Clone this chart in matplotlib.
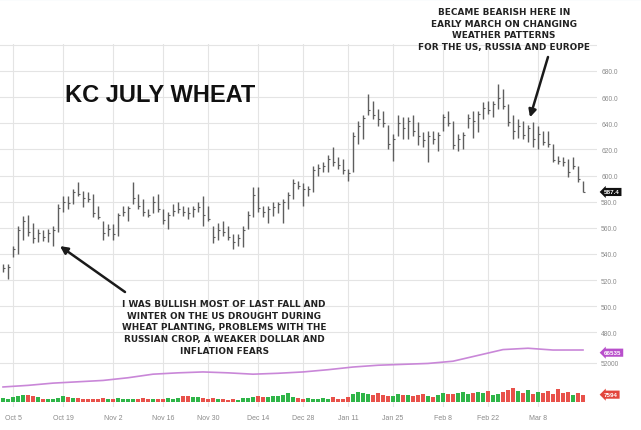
import numpy as np
import pandas as pd
import matplotlib
matplotlib.use('Agg')
import matplotlib.pyplot as plt
from matplotlib import transforms

# trading days Oct 1 2020 .. Mar 19 2021 (exchange holidays removed)
holidays = ['2020-11-26', '2020-12-25', '2021-01-01', '2021-01-18', '2021-02-15']
dates = pd.bdate_range('2020-10-01', '2021-03-19')
dates = dates[~dates.isin(pd.to_datetime(holidays))]

highs = [532, 532, 546, 561, 569, 570, 564, 559, 558, 559,
         561, 578, 584, 584, 590, 595, 588, 587, 586, 577,
         565, 563, 563, 571, 577, 577, 595, 586, 582, 574,
         584, 586, 574, 572, 578, 580, 577, 576, 577, 580,
         584, 577, 561, 564, 565, 561, 555, 555, 561, 573,
         591, 591, 577, 577, 580, 580, 582, 587, 597, 596,
         594, 592, 607, 609, 610, 616, 622, 614, 613, 605,
         633, 642, 646, 662, 657, 651, 649, 639, 632, 646,
         645, 645, 646, 641, 633, 634, 634, 633, 647, 649,
         642, 632, 633, 647, 649, 649, 656, 657, 657, 670,
         666, 655, 646, 643, 642, 639, 641, 638, 634, 634,
         624, 615, 614, 613, 614, 607, 596]
lows = [526, 521, 538, 540, 551, 554, 548, 549, 550, 549,
        546, 557, 572, 574, 578, 584, 576, 580, 568, 567,
        551, 554, 551, 554, 569, 565, 578, 574, 569, 568,
        571, 572, 563, 559, 569, 571, 569, 567, 568, 572,
        561, 565, 548, 551, 554, 551, 544, 546, 545, 559,
        568, 572, 568, 564, 569, 571, 564, 574, 582, 590,
        577, 584, 587, 600, 603, 603, 607, 605, 601, 596,
        603, 624, 628, 646, 643, 638, 637, 620, 611, 630,
        628, 628, 630, 623, 622, 610, 624, 619, 634, 638,
        620, 619, 620, 636, 629, 633, 643, 647, 645, 651,
        651, 638, 628, 629, 628, 626, 622, 620, 623, 622,
        610, 609, 607, 599, 605, 595, 587]
closes = [529, 530, 544, 558, 565, 557, 552, 556, 553, 556,
          558, 575, 580, 579, 587, 586, 583, 582, 571, 568,
          556, 559, 555, 570, 572, 575, 583, 577, 572, 570,
          580, 574, 566, 570, 573, 574, 572, 571, 574, 576,
          570, 567, 553, 558, 557, 553, 549, 552, 558, 570,
          585, 575, 572, 574, 576, 578, 580, 585, 594, 592,
          590, 590, 604, 606, 607, 613, 610, 608, 604, 602,
          630, 638, 644, 650, 646, 643, 640, 624, 628, 640,
          636, 642, 634, 630, 627, 630, 628, 631, 645, 640,
          623, 628, 631, 644, 642, 647, 652, 650, 655, 659,
          653, 641, 634, 638, 631, 636, 628, 632, 626, 624,
          612, 611, 610, 603, 607, 597, 587.4]
volume = [4400, 3300, 5500, 6600, 7700, 7200, 6100, 5000, 3300, 3000,
          2600, 4400, 6000, 5200, 4200, 3800, 3300, 3600, 3000, 3400,
          3800, 3200, 3500, 4000, 3100, 3600, 3300, 2800, 3900, 3000,
          2700, 3300, 3000, 4200, 2600, 3700, 5800, 6200, 5300, 4800,
          4300, 3600, 3900, 3100, 2700, 2500, 2900, 2400, 3800, 4400,
          5600, 6000, 5000, 4700, 5900, 6300, 7000, 9000, 5200, 4100,
          3200, 3800, 3300, 2900, 3800, 2700, 4900, 3000, 3500, 5600,
          8000, 10500, 9000, 8500, 7200, 8800, 7500, 6300, 6600, 8100,
          7100, 6800, 6200, 6900, 8300, 6000, 5600, 7000, 9800, 7800,
          8600, 9600, 10200, 8700, 9300, 10500, 8900, 11000, 7500, 8200,
          9900, 12800, 14500, 11000, 9800, 12000, 8500, 10800, 9400, 11500,
          8600, 13200, 9200, 10300, 7400, 8800, 7594]
oi_dates = ['2020-10-01', '2020-10-08', '2020-10-15', '2020-10-22', '2020-10-29',
            '2020-11-05', '2020-11-12', '2020-11-19', '2020-11-27', '2020-12-04',
            '2020-12-11', '2020-12-18', '2020-12-28', '2021-01-05', '2021-01-12',
            '2021-01-20', '2021-01-27', '2021-02-03', '2021-02-10', '2021-02-18',
            '2021-02-25', '2021-03-04', '2021-03-11', '2021-03-19']
oi = [25200, 27000, 29500, 31000, 32500, 35500, 39500, 41000, 42000, 41000,
      39500, 40500, 42000, 44500, 47500, 49500, 50500, 51500, 54000, 60500,
      67000, 68500, 66500, 66535]
tick_dates = ['2020-10-05', '2020-10-19', '2020-11-02', '2020-11-16', '2020-11-30',
              '2020-12-14', '2020-12-28', '2021-01-11', '2021-01-25', '2021-02-08',
              '2021-02-22', '2021-03-08']
tick_labels = ['Oct 5', 'Oct 19', 'Nov 2', 'Nov 16', 'Nov 30', 'Dec 14', 'Dec 28',
               'Jan 11', 'Jan 25', 'Feb 8', 'Feb 22', 'Mar 8']

plt.rcParams['font.family'] = ['Liberation Sans', 'DejaVu Sans']

W, H = 641, 431
fig = plt.figure(figsize=(W / 100, H / 100), dpi=100)
fig.patch.set_facecolor('white')

x = np.arange(len(dates))
pos = pd.Series(x, index=dates)
xlim = (-0.6, 118.8)

ax = fig.add_axes([0, 1 - 408 / H, 597 / W, 363 / H])
ax.set_xlim(*xlim)
ax.set_ylim(422.9, 700.6)
for s in ax.spines.values():
    s.set_visible(False)
ax.set_xticks([pos[pd.Timestamp(d)] for d in tick_dates])
ax.set_xticklabels(tick_labels)
yt = list(range(480, 701, 20))
ax.set_yticks(yt)
ax.set_yticklabels([f'{v:.1f}' if v < 700 else '' for v in yt])
ax.tick_params(axis='x', labelsize=5, colors='#8a8a8a', length=0, pad=5)
ax.grid(True, color='#e4e4e4', lw=0.8)
ax.set_axisbelow(True)

bar_col = '#5e5e5e'
ax.vlines(x, lows, highs, color=bar_col, lw=1.0)
ax.hlines(closes, x, x + 0.45, color=bar_col, lw=0.8)

# open interest
ax_oi = ax.twinx()
ax_oi.set_ylim(2808, 408642)
ax_oi.set_xlim(*xlim)
for s in ax_oi.spines.values():
    s.set_visible(False)
ax_oi.set_yticks([52000])
ax_oi.set_yticklabels(['52000'])
ax_oi.tick_params(axis='y', labelsize=4.8, colors='#8a8a8a', length=0, pad=3)
ax_oi.grid(True, axis='y', color='#e4e4e4', lw=0.8)
oi_x = [pos[pd.Timestamp(d)] for d in oi_dates]
ax_oi.plot(oi_x, oi, color='#c987d8', lw=1.2)

# price labels on the right (after twinx, which moves them left)
ax.yaxis.tick_right()
ax.tick_params(axis='y', labelsize=4.8, colors='#8a8a8a', length=0, pad=3,
               left=False, labelleft=False, right=True, labelright=True)

# volume
ax_v = fig.add_axes([0, 1 - 403 / H, 597 / W, 30 / H])
ax_v.set_xlim(*xlim)
ax_v.set_ylim(0, 31000)
ax_v.axis('off')
vcol = ['#2fb548' if i == 0 or closes[i] >= closes[i - 1] else '#e8514a' for i in range(len(x))]
ax_v.bar(x, volume, width=0.7, color=vcol)

# right-side badges
tp = transforms.blended_transform_factory(ax.transAxes, ax.transData)
ax.text(1.012, closes[-1], f'{closes[-1]:.1f}', transform=tp, fontsize=4.5, color='white',
        fontweight='bold', va='center', ha='left', clip_on=False,
        bbox=dict(boxstyle='larrow,pad=0.25', fc='#111111', ec='none'))
to = transforms.blended_transform_factory(ax_oi.transAxes, ax_oi.transData)
ax_oi.text(1.012, oi[-1] - 3000, f'{oi[-1]}', transform=to, fontsize=4.5, color='white',
           fontweight='bold', va='center', ha='left', clip_on=False,
           bbox=dict(boxstyle='larrow,pad=0.25', fc='#b84fcb', ec='none'))
tv = transforms.blended_transform_factory(ax_v.transAxes, ax_v.transData)
ax_v.text(1.012, volume[-1], f'{volume[-1]}', transform=tv, fontsize=4.5, color='white',
          fontweight='bold', va='center', ha='left', clip_on=False,
          bbox=dict(boxstyle='larrow,pad=0.25', fc='#e2463c', ec='none'))

# annotations
fig.text(65 / W, 1 - 95 / H, 'KC JULY WHEAT', fontsize=17, fontweight='bold',
         color='#111111', ha='left', va='center')
fig.text(504 / W, 1 - 30 / H,
         'BECAME BEARISH HERE IN\nEARLY MARCH ON CHANGING\nWEATHER PATTERNS\nFOR THE US, RUSSIA AND EUROPE',
         fontsize=6.4, fontweight='bold', color='#222222', ha='center', va='center',
         linespacing=1.4, family='DejaVu Sans')
fig.text(224 / W, 1 - 328 / H,
         'I WAS BULLISH MOST OF LAST FALL AND\nWINTER ON THE US DROUGHT DURING\n'
         'WHEAT PLANTING, PROBLEMS WITH THE\nRUSSIAN CROP, A WEAKER DOLLAR AND\nINFLATION FEARS',
         fontsize=6.4, fontweight='bold', color='#222222', ha='center', va='center',
         linespacing=1.4, family='DejaVu Sans')
arrow = dict(arrowstyle='-|>', color='#1a1a1a', lw=1.8, mutation_scale=11, shrinkA=0, shrinkB=0)
ax.annotate('', xy=(105.4, 644.5), xycoords='data', xytext=(548, H - 58),
            textcoords='figure pixels', arrowprops=arrow, annotation_clip=False)
ax.annotate('', xy=(11.4, 546), xycoords='data', xytext=(125, H - 293),
            textcoords='figure pixels', arrowprops=arrow, annotation_clip=False)

fig.add_artist(plt.Line2D([0, 1], [0.999, 0.999], color='#a9c9e3', lw=0.8))

fig.savefig('out.png', dpi=100)
